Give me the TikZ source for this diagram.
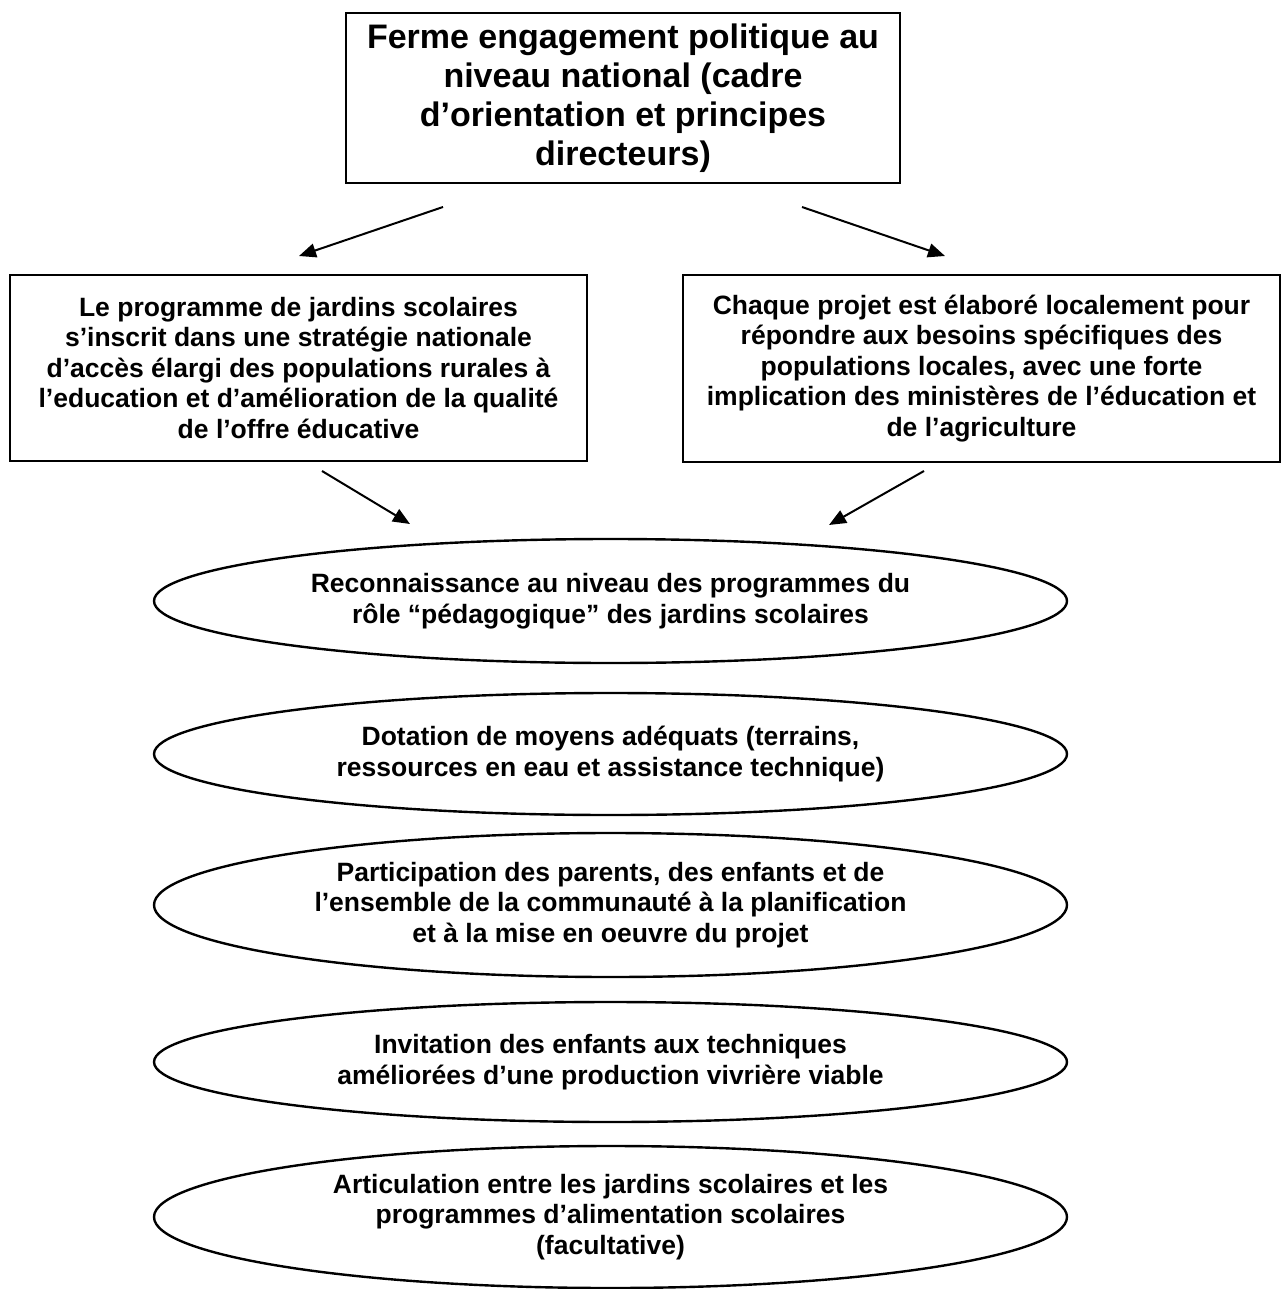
\documentclass[tikz,border=0pt]{standalone}
\usepackage{fontspec}
\setmainfont{Liberation Sans}
\usetikzlibrary{shapes.geometric,arrows.meta}
\tikzset{
  box/.style={draw, line width=2.4pt, rectangle, inner sep=0pt, align=center,
    font=\fontsize{26.5}{30.5}\selectfont\bfseries},
  topbox/.style={box, font=\fontsize{34}{39}\selectfont\bfseries},
  oval/.style={draw, line width=2.4pt, ellipse, inner sep=0pt, align=center,
    minimum width=913pt, font=\fontsize{26.5}{30.5}\selectfont\bfseries},
  arr/.style={line width=2pt, -{Triangle[length=17pt,width=14pt]}}
}
\begin{document}
\begin{tikzpicture}[x=1pt,y=-1pt]
\useasboundingbox (0,0) rectangle (1282,1289);
\node[topbox, minimum width=554pt, minimum height=170pt] (top) at (623,98)
  {Ferme engagement politique au\\niveau national (cadre\\d’orientation et principes\\directeurs)};
\node[box, minimum width=577pt, minimum height=186pt] (left) at (298.5,368)
  {Le programme de jardins scolaires\\s’inscrit dans une stratégie nationale\\d’accès élargi des populations rurales à\\l’education et d’amélioration de la qualité\\de l’offre éducative};
\node[box, minimum width=597pt, minimum height=187pt] (right) at (981.5,368.5)
  {Chaque projet est élaboré localement pour\\répondre aux besoins spécifiques des\\populations locales, avec une forte\\implication des ministères de l’éducation et\\de l’agriculture};
\node[oval, minimum height=124pt] (e1) at (610.5,601)
  {Reconnaissance au niveau des programmes du\\rôle “pédagogique” des jardins scolaires};
\node[oval, minimum height=122pt] (e2) at (610.5,754)
  {Dotation de moyens adéquats (terrains,\\ressources en eau et assistance technique)};
\node[oval, minimum height=144pt] (e3) at (610.5,905)
  {Participation des parents, des enfants et de\\l’ensemble de la communauté à la planification\\et à la mise en oeuvre du projet};
\node[oval, minimum height=120pt] (e4) at (610.5,1062)
  {Invitation des enfants aux techniques\\améliorées d’une production vivrière viable};
\node[oval, minimum height=142pt] (e5) at (610.5,1217)
  {Articulation entre les jardins scolaires et les\\programmes d’alimentation scolaires\\(facultative)};
\coordinate (a1s) at (443,207);
\coordinate (a1e) at (299,256);
\coordinate (a2s) at (802,207);
\coordinate (a2e) at (945,256);
\coordinate (a3s) at (322,471);
\coordinate (a3e) at (410,524);
\coordinate (a4s) at (924,471);
\coordinate (a4e) at (829,525);
\draw[arr] (a1s) -- (a1e);
\draw[arr] (a2s) -- (a2e);
\draw[arr] (a3s) -- (a3e);
\draw[arr] (a4s) -- (a4e);
\end{tikzpicture}
\end{document}
